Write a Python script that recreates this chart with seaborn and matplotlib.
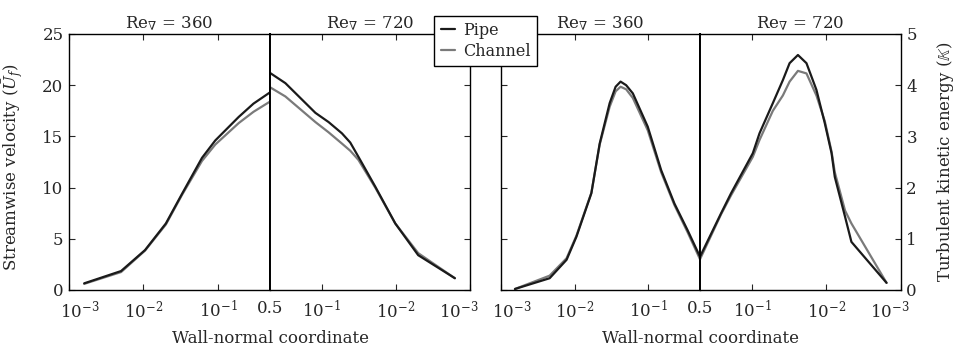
import pandas as pd
import matplotlib
matplotlib.use("Agg")
import matplotlib.pyplot as plt
import matplotlib.transforms as mtransforms
import seaborn as sns

# wall distance and profiles (pipe vs channel)
U_Y_360 = [0.0016, 0.005, 0.0105, 0.02, 0.033, 0.061, 0.092, 0.19, 0.3, 0.5]
U_PIPE_360 = [0.65, 1.85, 3.9, 6.5, 9.4, 12.9, 14.6, 16.9, 18.2, 19.3]
U_CHAN_360 = [0.6, 1.75, 3.85, 6.4, 9.3, 12.6, 14.2, 16.3, 17.4, 18.4]

U_Y_720 = [0.5, 0.31, 0.122, 0.081, 0.0535, 0.0413, 0.032, 0.019, 0.0102, 0.005, 0.0016]
U_PIPE_720 = [21.2, 20.2, 17.3, 16.4, 15.3, 14.4, 13.0, 10.1, 6.5, 3.4, 1.15]
U_CHAN_720 = [19.8, 18.9, 16.4, 15.4, 14.3, 13.6, 12.7, 10.0, 6.5, 3.6, 1.15]

K_Y_360 = [0.00156, 0.0046, 0.0078, 0.0106, 0.0169, 0.0219, 0.0299, 0.036, 0.042,
           0.05, 0.0616, 0.098, 0.149, 0.225, 0.339, 0.5]
K_PIPE_360 = [0.02, 0.23, 0.59, 1.04, 1.89, 2.86, 3.65, 3.97, 4.07,
              4.0, 3.84, 3.19, 2.34, 1.69, 1.17, 0.65]
K_CHAN_360 = [0.02, 0.28, 0.62, 1.06, 1.9, 2.84, 3.58, 3.88, 3.97,
              3.92, 3.75, 3.12, 2.3, 1.66, 1.13, 0.6]

K_Y_720 = [0.5, 0.26, 0.191, 0.0975, 0.0792, 0.0524, 0.0384, 0.0312, 0.0241,
           0.0185, 0.0136, 0.0105, 0.0085, 0.0077, 0.0056, 0.0046, 0.00155]
K_PIPE_720 = [0.65, 1.5, 1.89, 2.67, 3.06, 3.65, 4.10, 4.43, 4.59,
              4.43, 3.91, 3.26, 2.67, 2.21, 1.43, 0.94, 0.14]
K_CHAN_720 = [0.6, 1.48, 1.85, 2.6, 2.93, 3.5, 3.8, 4.07, 4.28,
              4.23, 3.8, 3.3, 2.7, 2.3, 1.55, 1.3, 0.14]

LEFT_TICKS = [1e-3, 1e-2, 1e-1, 0.5]
LEFT_LABELS = [r"$10^{-3}$", r"$10^{-2}$", r"$10^{-1}$", "0.5"]
RIGHT_TICKS = [1e-1, 1e-2, 1e-3]
RIGHT_LABELS = [r"$10^{-1}$", r"$10^{-2}$", r"$10^{-3}$"]

PALETTE = {"Pipe": "#1a1a1a", "Channel": "#7a7a7a"}
FS = 12


def half_frame(y, pipe, chan):
    return pd.DataFrame({
        "y": list(y) * 2,
        "value": list(pipe) + list(chan),
        "Case": ["Pipe"] * len(y) + ["Channel"] * len(y),
    })


sns.set_style("ticks")
plt.rcParams["font.family"] = ["DejaVu Serif"]
plt.rcParams["mathtext.fontset"] = "dejavuserif"
plt.rcParams["font.size"] = FS

fig = plt.figure(figsize=(9.59, 3.5), dpi=100)
bottom = 1 - 290 / 350
height = 256 / 350


def add(x0, x1):
    return fig.add_axes([x0 / 959, bottom, (x1 - x0) / 959, height])


axL1, axL2 = add(69, 270), add(270, 470)
axR1, axR2 = add(500.7, 700), add(700, 900.7)

halves = [
    (axL1, half_frame(U_Y_360, U_PIPE_360, U_CHAN_360), True),
    (axL2, half_frame(U_Y_720, U_PIPE_720, U_CHAN_720), False),
    (axR1, half_frame(K_Y_360, K_PIPE_360, K_CHAN_360), True),
    (axR2, half_frame(K_Y_720, K_PIPE_720, K_CHAN_720), False),
]

for ax, df, is_left in halves:
    sns.lineplot(data=df, x="y", y="value", hue="Case", hue_order=["Channel", "Pipe"],
                 palette=PALETTE, estimator=None, sort=False, linewidth=1.6,
                 legend=(ax is axL1), ax=ax)
    ax.set_xscale("log")
    if is_left:
        ax.set_xlim(1e-3, 0.5)
        ax.set_xticks(LEFT_TICKS)
        ax.set_xticklabels(LEFT_LABELS)
        ax.set_title(r"Re$_{\nabla}$ = 360", fontsize=FS, pad=5)
    else:
        ax.set_xlim(0.5, 1e-3)
        ax.set_xticks(RIGHT_TICKS)
        ax.set_xticklabels(RIGHT_LABELS)
        ax.set_title(r"Re$_{\nabla}$ = 720", fontsize=FS, pad=5)
    ax.minorticks_off()
    ax.set_xlabel("")
    ax.set_ylabel("")
    ax.tick_params(direction="in", length=4, width=0.8, top=True, bottom=True,
                   left=True, right=True, labelsize=FS, pad=4)
    ax.tick_params(axis="x", pad=7)
    for s in ax.spines.values():
        s.set_visible(True)
        s.set_linewidth(1.0)
        s.set_color("black")

# velocity panel
for ax in (axL1, axL2):
    ax.set_ylim(0, 25)
    ax.set_yticks([0, 5, 10, 15, 20, 25])
axL1.tick_params(right=False)
axL2.tick_params(left=False, labelleft=False)
axL1.spines["right"].set_linewidth(1.4)
axL2.spines["left"].set_linewidth(1.4)
axL1.set_ylabel(r"Streamwise velocity ($\bar{U}_f$)", fontsize=FS)
axL1.yaxis.set_label_coords(-0.22, 0.48)
axL1.set_xlabel("Wall-normal coordinate", fontsize=FS)
axL1.xaxis.set_label_coords(1.0, -0.155)

# kinetic energy panel
for ax in (axR1, axR2):
    ax.set_ylim(0, 5)
    ax.set_yticks([0, 1, 2, 3, 4, 5])
axR1.tick_params(right=False, labelleft=False)
axR2.tick_params(left=False, labelleft=False, labelright=True)
axR1.spines["right"].set_linewidth(1.4)
axR2.spines["left"].set_linewidth(1.4)
axR2.yaxis.set_label_position("right")
axR2.set_ylabel(r"Turbulent kinetic energy ($\mathbb{K}$)", fontsize=FS)
axR2.yaxis.set_label_coords(1.17, 0.5)
axR1.set_xlabel("Wall-normal coordinate", fontsize=FS)
axR1.xaxis.set_label_coords(1.0, -0.155)

# edge tick labels sit slightly inward, as in the original
shift_in = mtransforms.ScaledTranslation(11 / 100, 0, fig.dpi_scale_trans)
shift_out = mtransforms.ScaledTranslation(-11 / 100, 0, fig.dpi_scale_trans)
for ax in (axL1, axR1):
    lab = ax.get_xticklabels()[0]
    lab.set_transform(lab.get_transform() + shift_in)
for ax in (axL2, axR2):
    lab = ax.get_xticklabels()[-1]
    lab.set_transform(lab.get_transform() + shift_out)

handles, labels = axL1.get_legend_handles_labels()
axL1.get_legend().remove()
order = [labels.index("Pipe"), labels.index("Channel")]
leg = fig.legend([handles[i] for i in order], [labels[i] for i in order],
                 loc="center", bbox_to_anchor=(485.5 / 959, 1 - 41 / 350),
                 fontsize=11.5, handlelength=0.9, handletextpad=0.5,
                 borderpad=0.4, labelspacing=0.25, fancybox=False,
                 framealpha=1, edgecolor="black")
leg.get_frame().set_linewidth(1.0)

fig.savefig("out.png", dpi=100)
